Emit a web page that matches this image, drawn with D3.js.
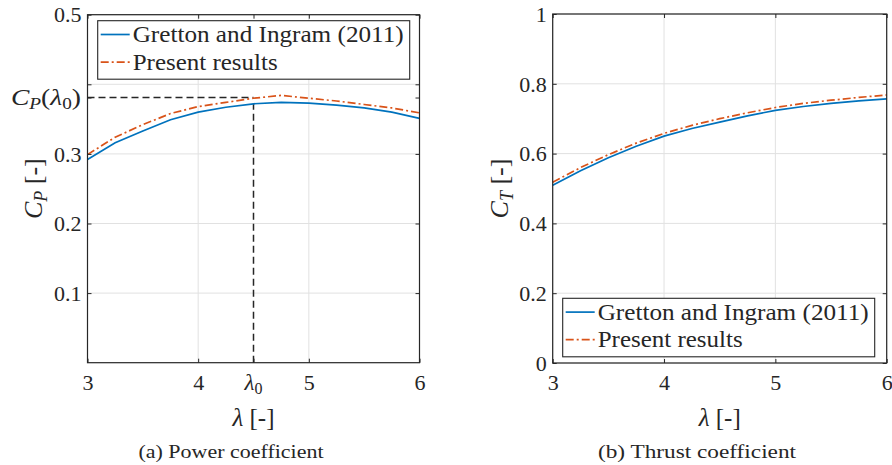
<!DOCTYPE html>
<html>
<head>
<meta charset="utf-8">
<script src="https://cdn.jsdelivr.net/npm/d3@7"></script>
<style>
  html, body { margin: 0; padding: 0; background: #fff; }
  svg { display: block; }
  svg text { font-family: 'Liberation Serif', 'DejaVu Serif', serif !important; fill: #262626; }
</style>
</head>
<body>
<svg id="chart" width="892" height="465"></svg>
<script>
// ---- data ----
const lambda      = [3, 3.25, 3.5, 3.75, 4, 4.25, 4.5, 4.75, 5, 5.25, 5.5, 5.75, 6];
const cpGretton   = [0.292, 0.316, 0.333, 0.349, 0.360, 0.367, 0.372, 0.374, 0.373, 0.370, 0.366, 0.360, 0.351];
const cpPresent   = [0.299, 0.324, 0.342, 0.358, 0.368, 0.374, 0.380, 0.384, 0.380, 0.376, 0.371, 0.366, 0.359];
const ctGretton   = [0.509, 0.551, 0.588, 0.621, 0.650, 0.672, 0.690, 0.708, 0.724, 0.735, 0.744, 0.751, 0.757];
const ctPresent   = [0.518, 0.560, 0.597, 0.630, 0.658, 0.681, 0.700, 0.717, 0.732, 0.744, 0.753, 0.761, 0.768];
const lambda0     = 4.5;
const cp0         = 0.381;
const xTicks      = [3, 4, 5, 6];
const cpGrid      = [0.1, 0.2, 0.3, 0.4, 0.5];
const cpLabels    = [0.1, 0.2, 0.3, 0.5];
const ctTicks     = [0, 0.2, 0.4, 0.6, 0.8, 1];
const seriesNames = ["Gretton and Ingram (2011)", "Present results"];
const captions    = ["(a) Power coefficient", "(b) Thrust coefficient"];

const BLUE = "#0072BD", ORANGE = "#D95319", AX = "#262626", GRID = "#e1e1e1";
const FONT = "'Liberation Serif', 'DejaVu Serif', serif";
const svg = d3.select("#chart");

function panel(opts) {
  const x = d3.scaleLinear().domain([3, 6]).range([opts.x0, opts.x1]);
  const y = d3.scaleLinear().domain(opts.ydom).range([opts.y1, opts.y0]);
  const g = svg.append("g");

  // grid
  g.selectAll(".gx").data(xTicks).join("line")
    .attr("x1", d => x(d)).attr("x2", d => x(d))
    .attr("y1", opts.y0).attr("y2", opts.y1)
    .attr("stroke", GRID).attr("stroke-width", 1);
  g.selectAll(".gy").data(opts.grid).join("line")
    .attr("x1", opts.x0).attr("x2", opts.x1)
    .attr("y1", d => y(d)).attr("y2", d => y(d))
    .attr("stroke", GRID).attr("stroke-width", 1);

  if (opts.extra) opts.extra(g, x, y);

  // curves
  const line = d3.line().x((d, i) => x(lambda[i])).y(d => y(d));
  g.append("path").datum(opts.s1).attr("d", line)
    .attr("fill", "none").attr("stroke", BLUE).attr("stroke-width", 1.7);
  g.append("path").datum(opts.s2).attr("d", line)
    .attr("fill", "none").attr("stroke", ORANGE).attr("stroke-width", 1.7)
    .attr("stroke-dasharray", "8,3,2,3");

  // axes (ticks inside, box)
  const tl = 4;
  const xb = g.append("g").attr("transform", `translate(0,${opts.y1})`)
    .call(d3.axisBottom(x).tickValues(opts.xTickVals).tickSize(-tl).tickFormat(opts.xFmt).tickSizeOuter(0));
  const xt = g.append("g").attr("transform", `translate(0,${opts.y0})`)
    .call(d3.axisTop(x).tickValues(opts.xTickVals).tickSize(-tl).tickFormat("").tickSizeOuter(0));
  const yl = g.append("g").attr("transform", `translate(${opts.x0},0)`)
    .call(d3.axisLeft(y).tickValues(opts.yTickVals).tickSize(-tl).tickFormat(opts.yFmt).tickSizeOuter(0));
  const yr = g.append("g").attr("transform", `translate(${opts.x1},0)`)
    .call(d3.axisRight(y).tickValues(opts.yTickVals).tickSize(-tl).tickFormat("").tickSizeOuter(0));
  [xb, xt, yl, yr].forEach(a => {
    a.attr("font-family", FONT);
    a.select(".domain").remove();
    a.selectAll(".tick line").attr("stroke", AX).attr("stroke-width", 1);
  });
  xb.selectAll(".tick text").attr("y", 27).attr("dy", 0)
    .attr("font-size", 22).attr("fill", AX);
  yl.selectAll(".tick text").attr("x", -6).attr("dy", "0.33em")
    .attr("font-size", 22).attr("fill", AX);

  // box
  g.append("rect").attr("x", opts.x0).attr("y", opts.y0)
    .attr("width", opts.x1 - opts.x0).attr("height", opts.y1 - opts.y0)
    .attr("fill", "none").attr("stroke", AX).attr("stroke-width", 1.2);

  // axis labels
  const xl = g.append("text").attr("x", (opts.x0 + opts.x1) / 2).attr("y", 426)
    .attr("text-anchor", "middle").attr("font-size", 25);
  xl.append("tspan").attr("font-style", "italic").text("λ");
  xl.append("tspan").text(" [-]");

  const ylab = g.append("text")
    .attr("transform", `translate(${opts.ylabX},${(opts.y0 + opts.y1) / 2}) rotate(-90)`)
    .attr("text-anchor", "middle").attr("font-size", 26);
  ylab.append("tspan").attr("font-style", "italic").text("C");
  ylab.append("tspan").attr("font-style", "italic").attr("font-size", 18).attr("dy", 5).text(opts.sub);
  ylab.append("tspan").attr("dy", -5).text(" [-]");

  // legend
  const L = opts.legend;
  const lg = g.append("g");
  lg.append("rect").attr("x", L.x).attr("y", L.y).attr("width", 312).attr("height", 58.5)
    .attr("fill", "#fff").attr("stroke", AX).attr("stroke-width", 1.1);
  seriesNames.forEach((name, i) => {
    const cy = L.y + 13.8 + i * 27.6;
    lg.append("line").attr("x1", L.x + 3).attr("x2", L.x + 32).attr("y1", cy).attr("y2", cy)
      .attr("stroke", i === 0 ? BLUE : ORANGE).attr("stroke-width", 1.7)
      .attr("stroke-dasharray", i === 0 ? null : "8,3,2,3");
    const t = lg.append("text").attr("x", L.x + 35).attr("y", cy + 7.5).attr("font-size", 23).text(name);
    t.attr("textLength", i === 0 ? 271 : 145).attr("lengthAdjust", "spacingAndGlyphs");
  });

  // caption
  svg.append("text").attr("x", opts.capX).attr("y", 458).attr("text-anchor", "middle")
    .attr("font-size", 19).attr("textLength", opts.capW).attr("lengthAdjust", "spacingAndGlyphs")
    .text(opts.caption);
  return {x, y, g};
}

// Panel (a)
panel({
  x0: 87.5, x1: 419.5, y0: 14.7, y1: 362.7, ydom: [0, 0.5],
  grid: cpGrid,
  xTickVals: [3, 4, lambda0, 5, 6],
  xFmt: d => d === lambda0 ? "" : d3.format("d")(d),
  yTickVals: [0.1, 0.2, 0.3, cp0, 0.4, 0.5],
  yFmt: d => cpLabels.includes(d) ? d3.format(".1f")(d) : "",
  s1: cpGretton, s2: cpPresent, sub: "P", ylabX: 42,
  legend: {x: 97.7, y: 20.7},
  caption: captions[0], capX: 231, capW: 185,
  extra: (g, x, y) => {
    g.append("line").attr("x1", x(3)).attr("x2", x(lambda0)).attr("y1", y(cp0)).attr("y2", y(cp0))
      .attr("stroke", "#262626").attr("stroke-width", 1.5).attr("stroke-dasharray", "7,4");
    g.append("line").attr("x1", x(lambda0)).attr("x2", x(lambda0)).attr("y1", y(0)).attr("y2", y(cpGretton[lambda.indexOf(lambda0)]))
      .attr("stroke", "#262626").attr("stroke-width", 1.5).attr("stroke-dasharray", "7,4");
    const t = g.append("text").attr("x", x(lambda0)).attr("y", 362.7 + 27).attr("text-anchor", "middle").attr("font-size", 23);
    t.append("tspan").attr("font-style", "italic").text("λ");
    t.append("tspan").attr("font-size", 16).attr("dy", 4).text("0");
    const c = g.append("text").attr("x", 81).attr("y", y(cp0) + 7).attr("text-anchor", "end")
      .attr("font-size", 23).attr("textLength", 70).attr("lengthAdjust", "spacingAndGlyphs");
    c.append("tspan").attr("font-style", "italic").text("C");
    c.append("tspan").attr("font-style", "italic").attr("font-size", 16).attr("dy", 4).text("P");
    c.append("tspan").attr("dy", -4).text("(");
    c.append("tspan").attr("font-style", "italic").text("λ");
    c.append("tspan").attr("font-size", 16).attr("dy", 4).text("0");
    c.append("tspan").attr("dy", -4).text(")");
  }
});

// Panel (b)
panel({
  x0: 552.7, x1: 886.7, y0: 14, y1: 363, ydom: [0, 1],
  grid: ctTicks,
  xTickVals: xTicks,
  xFmt: d3.format("d"),
  yTickVals: ctTicks,
  yFmt: d => d === 0 || d === 1 ? d3.format("d")(d) : d3.format(".1f")(d),
  s1: ctGretton, s2: ctPresent, sub: "T", ylabX: 508,
  legend: {x: 562.7, y: 298.3},
  caption: captions[1], capX: 697, capW: 198
});
</script>
</body>
</html>
